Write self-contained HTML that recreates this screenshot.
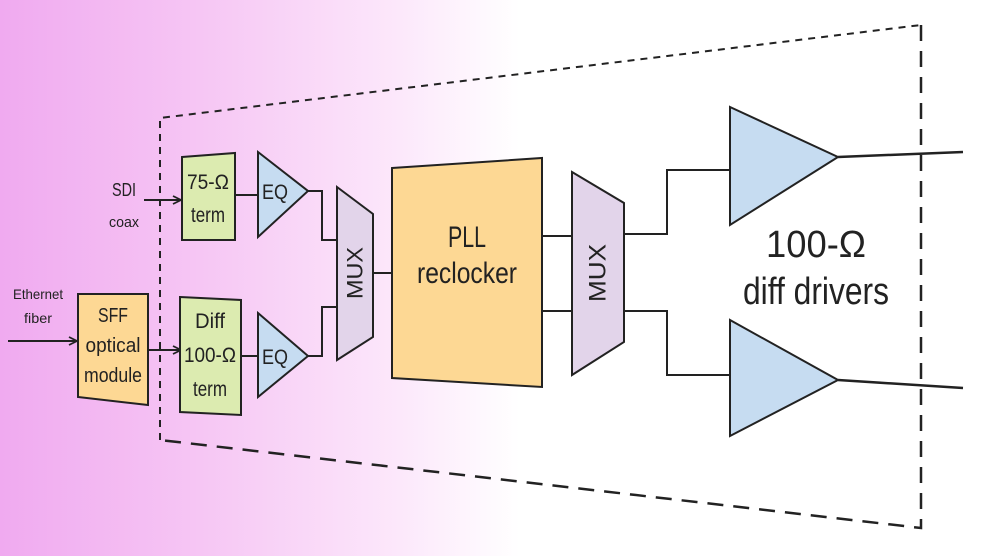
<!DOCTYPE html>
<html><head><meta charset="utf-8"><style>
html,body{margin:0;padding:0;width:1000px;height:556px;overflow:hidden;background:#fff}
svg{display:block}
text{font-family:"Liberation Sans",sans-serif;fill:#222}
</style></head><body>
<svg width="1000" height="556" viewBox="0 0 1000 556" xmlns="http://www.w3.org/2000/svg">
<defs>
<linearGradient id="bg" x1="0" y1="0" x2="1" y2="0">
<stop offset="0" stop-color="#f0aaf0"/>
<stop offset="0.2" stop-color="#f6c6f4"/>
<stop offset="0.4" stop-color="#fce8fb"/>
<stop offset="0.52" stop-color="#ffffff"/>
<stop offset="1" stop-color="#ffffff"/>
</linearGradient>
<marker id="ar" viewBox="0 0 10 10" refX="9" refY="5" markerWidth="10" markerHeight="10" orient="auto" markerUnits="userSpaceOnUse">
<path d="M1,1 L9,5 L1,9" fill="none" stroke="#222" stroke-width="1.8"/>
</marker>
</defs>
<rect width="1000" height="556" fill="url(#bg)"/>
<g stroke="#222" stroke-width="2" fill="none">
<path d="M160,440 L160,118 L921,25" stroke-dasharray="7,6"/>
<path d="M921,25 L921,528 L160,440" stroke-dasharray="16,10" stroke-width="2.5"/>
<path d="M144,200 L181,200" marker-end="url(#ar)"/>
<path d="M8,341 L77,341" marker-end="url(#ar)"/>
<path d="M148,350 L181,350" marker-end="url(#ar)"/>
<path d="M235,195 L258,195"/>
<path d="M241,356 L258,356"/>
<path d="M308,191 L322,191 L322,240 L337,240"/>
<path d="M308,356 L322,356 L322,307 L337,307"/>
<path d="M373,273 L392,273"/>
<path d="M542,236 L572,236"/>
<path d="M542,311 L572,311"/>
<path d="M624,234 L667,234 L667,170 L730,170"/>
<path d="M624,311 L667,311 L667,375 L730,375"/>
<path d="M838,157 L963,152" stroke-width="2.5"/>
<path d="M838,380 L963,388" stroke-width="2.5"/>
</g>
<g stroke="#222" stroke-width="2">
<polygon points="182,157 235,153 235,240 182,240" fill="#dcebb0"/>
<polygon points="180,297 241,300 241,415 180,412" fill="#dcebb0"/>
<polygon points="78,294 148,294 148,405 78,397" fill="#fdd894"/>
<polygon points="258,152 308,191 258,237" fill="#c6dcf1"/>
<polygon points="258,313 308,356 258,397" fill="#c6dcf1"/>
<polygon points="337,187 373,214 373,337 337,360" fill="#e2d4ea"/>
<polygon points="392,168 542,158 542,387 392,378" fill="#fdd894"/>
<polygon points="572,172 624,203 624,342 572,375" fill="#e2d4ea"/>
<polygon points="730,107 838,157 730,225" fill="#c6dcf1"/>
<polygon points="730,320 838,380 730,436" fill="#c6dcf1"/>
</g>
<g text-anchor="middle">
<text x="124" y="196" font-size="18" textLength="24" lengthAdjust="spacingAndGlyphs">SDI</text>
<text x="124" y="227" font-size="15" textLength="30" lengthAdjust="spacingAndGlyphs">coax</text>
<text x="38" y="299" font-size="14" textLength="50" lengthAdjust="spacingAndGlyphs">Ethernet</text>
<text x="38" y="323" font-size="14" textLength="28" lengthAdjust="spacingAndGlyphs">fiber</text>
<text x="208" y="189" font-size="21" textLength="42" lengthAdjust="spacingAndGlyphs">75-Ω</text>
<text x="208" y="222" font-size="21" textLength="34" lengthAdjust="spacingAndGlyphs">term</text>
<text x="210" y="328" font-size="21" textLength="30" lengthAdjust="spacingAndGlyphs">Diff</text>
<text x="210" y="362" font-size="21" textLength="52" lengthAdjust="spacingAndGlyphs">100-Ω</text>
<text x="210" y="396" font-size="21" textLength="34" lengthAdjust="spacingAndGlyphs">term</text>
<text x="113" y="322" font-size="20" textLength="30" lengthAdjust="spacingAndGlyphs">SFF</text>
<text x="113" y="352" font-size="20" textLength="55" lengthAdjust="spacingAndGlyphs">optical</text>
<text x="113" y="382" font-size="20" textLength="58" lengthAdjust="spacingAndGlyphs">module</text>
<text x="275" y="199" font-size="21" textLength="26" lengthAdjust="spacingAndGlyphs">EQ</text>
<text x="275" y="364" font-size="21" textLength="26" lengthAdjust="spacingAndGlyphs">EQ</text>
<text x="467" y="247" font-size="30" textLength="38" lengthAdjust="spacingAndGlyphs">PLL</text>
<text x="467" y="283" font-size="30" textLength="100" lengthAdjust="spacingAndGlyphs">reclocker</text>
<text x="816" y="257" font-size="38" textLength="100" lengthAdjust="spacingAndGlyphs">100-Ω</text>
<text x="816" y="304" font-size="38" textLength="146" lengthAdjust="spacingAndGlyphs">diff drivers</text>
<text transform="translate(355,273) rotate(-90)" font-size="22" textLength="52" lengthAdjust="spacingAndGlyphs" dominant-baseline="central">MUX</text>
<text transform="translate(598,273) rotate(-90)" font-size="24" textLength="58" lengthAdjust="spacingAndGlyphs" dominant-baseline="central">MUX</text>
</g>
</svg>
</body></html>
